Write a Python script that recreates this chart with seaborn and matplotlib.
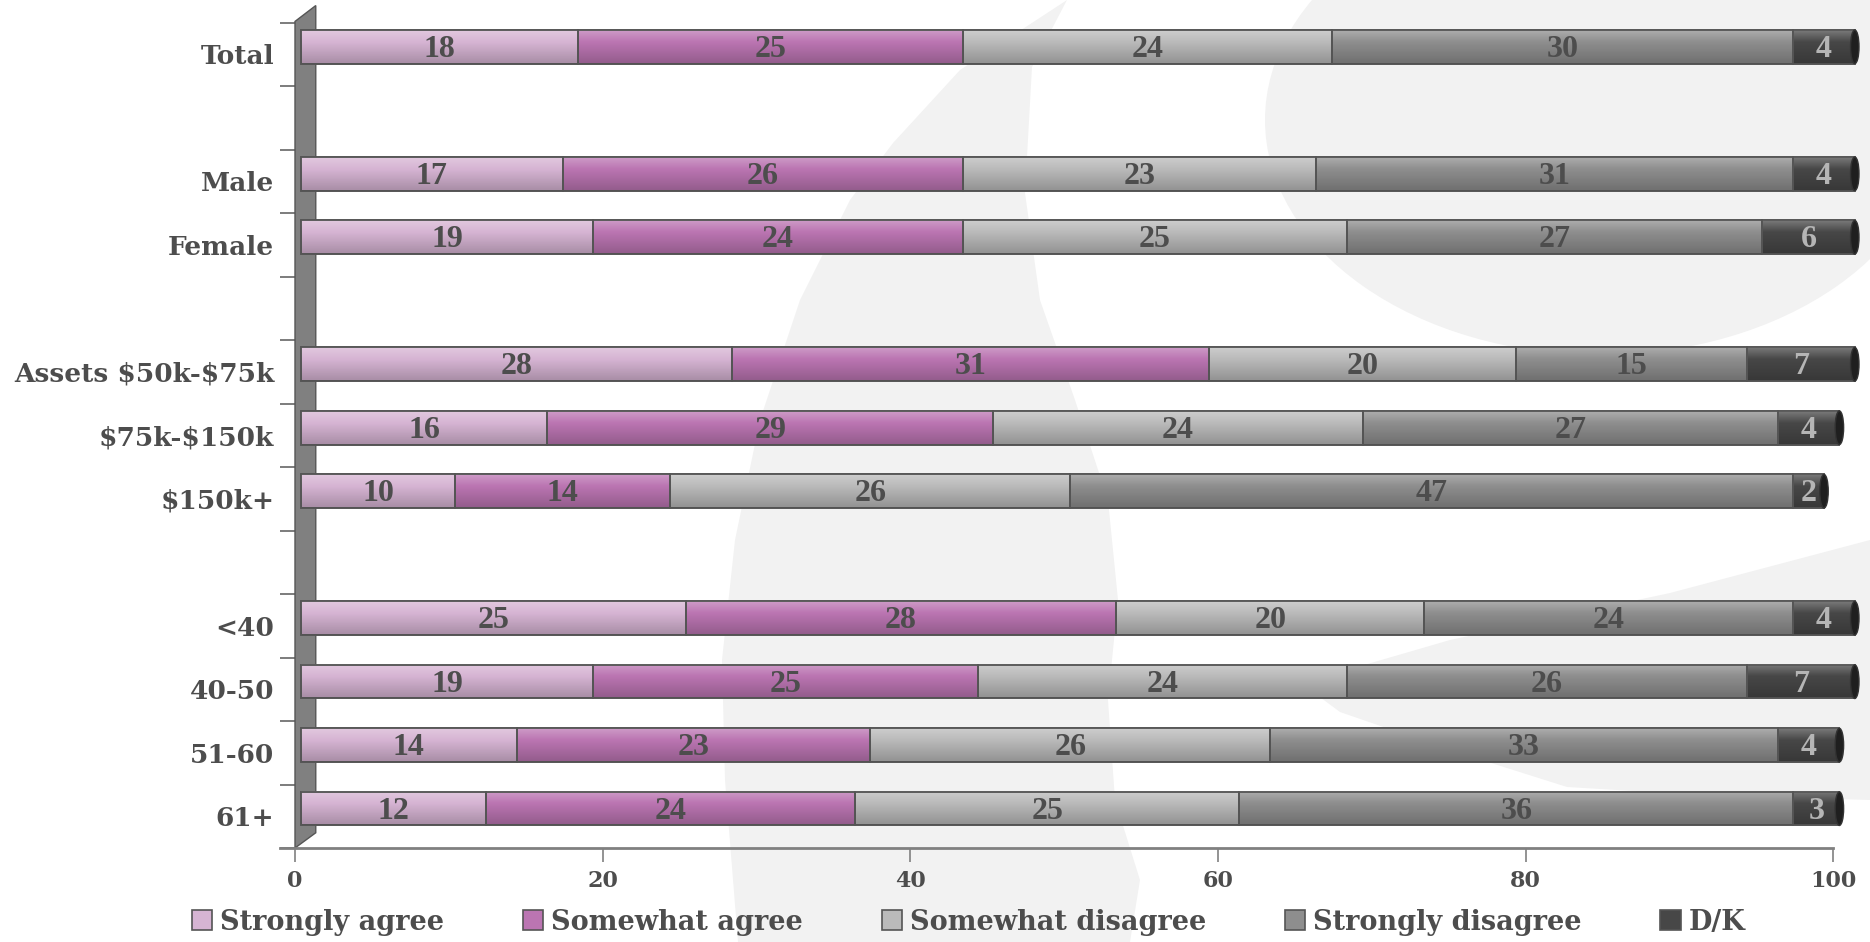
import numpy as np
import pandas as pd
import matplotlib
matplotlib.use('Agg')
import matplotlib.pyplot as plt
import seaborn as sns
from matplotlib.patches import Polygon, Ellipse, Patch, Rectangle

# survey answers in %, one list per answer, same order as `groups`
groups = ['Total', 'Male', 'Female', 'Assets $50k-$75k', '$75k-$150k', '$150k+',
          '<40', '40-50', '51-60', '61+']
strongly_agree = [18, 17, 19, 28, 16, 10, 25, 19, 14, 12]
somewhat_agree = [25, 26, 24, 31, 29, 14, 28, 25, 23, 24]
somewhat_disagree = [24, 23, 25, 20, 24, 26, 20, 24, 26, 25]
strongly_disagree = [30, 31, 27, 15, 27, 47, 24, 26, 33, 36]
dont_know = [4, 4, 6, 7, 4, 2, 4, 7, 4, 3]

answers = ['Strongly agree', 'Somewhat agree', 'Somewhat disagree', 'Strongly disagree', 'D/K']
colors = ['#d6b4d3', '#bb75b2', '#bababa', '#8e8e8e', '#474747']

# row layout, blank names are spacer rows between blocks
rows = ['Total', ' ', 'Male', 'Female', '  ', 'Assets $50k-$75k', '$75k-$150k',
        '$150k+', '   ', '<40', '40-50', '51-60', '61+']

df = pd.DataFrame({'group': groups,
                   'Strongly agree': strongly_agree,
                   'Somewhat agree': somewhat_agree,
                   'Somewhat disagree': somewhat_disagree,
                   'Strongly disagree': strongly_disagree,
                   'D/K': dont_know})
long = df.melt(id_vars='group', var_name='answer', value_name='pct')
long['end'] = long.groupby('group')['pct'].cumsum()

sns.set_style('white')
plt.rcParams['font.family'] = ['DejaVu Serif']
plt.rcParams['text.parse_math'] = False  # keep the $ signs as plain text
text_col = '#4d4d4d'

W, H = 1870, 942
fig = plt.figure(figsize=(W / 100, H / 100), dpi=100, facecolor='white')


def fp(pts):
    return [(x / W, 1 - y / H) for x, y in pts]


# faint logo watermark in the background
wm = '#f2f2f2'
crescent = [(1067, 0), (960, 70), (893, 143), (850, 200), (800, 300), (760, 420),
            (735, 540), (722, 660), (725, 780), (738, 942), (1130, 942), (1140, 880),
            (1115, 800), (1108, 700), (1118, 600), (1108, 500), (1075, 400),
            (1040, 300), (1025, 193), (1032, 67)]
horn = [(1313, 692), (1340, 672), (1450, 640), (1670, 593), (1870, 540),
        (1870, 800), (1700, 795), (1567, 787), (1450, 750), (1340, 712)]
fig.add_artist(Polygon(fp(crescent), closed=True, transform=fig.transFigure,
                       fc=wm, ec='none', zorder=0))
fig.add_artist(Polygon(fp(horn), closed=True, transform=fig.transFigure,
                       fc=wm, ec='none', zorder=0))
fig.add_artist(Ellipse((1600 / W, 1 - 120 / H), 2 * 335 / W, 2 * 235 / H,
                       transform=fig.transFigure, fc=wm, ec='none', zorder=0))

ax = fig.add_axes([295 / W, 1 - 848 / H, 1569 / W, 844.35 / H])
ax.set_facecolor('none')

# stacked bars: draw cumulative totals, then trim each bar to its own segment
for ans, col in reversed(list(zip(answers, colors))):
    sub = long[long['answer'] == ans]
    sns.barplot(data=sub, x='end', y='group', order=rows, color=col, saturation=1,
                width=0.53, edgecolor='#555555', linewidth=1.2, errorbar=None,
                orient='h', ax=ax, zorder=2)
    for bar in ax.containers[-1]:
        idx = int(round(bar.get_y() + bar.get_height() / 2))
        row = sub[sub['group'] == rows[idx]].iloc[0]
        bar.set_x(row['end'] - row['pct'] + 0.4)
        bar.set_width(row['pct'])
        bar.set_y(bar.get_y() - 0.12)

# vertical shading so the bars look like tubes
n = 64
t = np.linspace(0, 1, n)
grad = np.zeros((n, 1, 4))
light = t < 0.35
grad[light, 0, :3] = 1.0
grad[light, 0, 3] = 0.28 * (1 - t[light] / 0.35)
grad[~light, 0, 3] = 0.22 * (t[~light] - 0.35) / 0.65

for ci, container in enumerate(ax.containers):
    ans = answers[len(answers) - 1 - ci]
    for bar in container:
        x0, y0, w, h = bar.get_x(), bar.get_y(), bar.get_width(), bar.get_height()
        ax.imshow(grad, extent=(x0, x0 + w, y0 + h, y0), aspect='auto',
                  interpolation='bilinear', zorder=3)
        ax.add_patch(Rectangle((x0, y0), w, h, fill=False, ec='#555555', lw=1.2, zorder=4))
        if ans == 'D/K':
            ax.add_patch(Ellipse((x0 + w, y0 + h / 2), 0.55, h, fc='#1f1f1f',
                                 ec='#333333', lw=1, zorder=4.5))
            lab_col = '#b5b5b5'
        else:
            lab_col = text_col
        ax.text(x0 + w / 2, y0 + h / 2 + 0.04, f'{int(round(w))}', ha='center', va='center',
                fontfamily='Liberation Serif', fontweight='bold', fontsize=23,
                color=lab_col, zorder=5)

# grey side wall
wall = Polygon([(0, -0.52), (1.35, -0.77), (1.35, 12.26), (0, 12.5)], closed=True,
               fc='#808080', ec='#555555', lw=1, zorder=1.5, clip_on=False)
ax.add_patch(wall)

ax.set_xlim(0, 102)
ax.set_ylim(12.5, -0.8)
ax.set_xlabel('')
ax.set_ylabel('')

ax.set_xticks([0, 20, 40, 60, 80, 100])
ax.tick_params(axis='x', bottom=True, length=10, width=1.2, color='#808080', pad=6,
               labelsize=16, labelcolor=text_col)
ax.set_yticks(range(len(rows)))
ax.set_yticklabels(rows)
ax.set_yticks(np.arange(-0.5, len(rows), 1), minor=True)
ax.tick_params(axis='y', which='major', left=False, length=0, pad=15,
               labelsize=19, labelcolor=text_col)
ax.tick_params(axis='y', which='minor', left=True, length=11, width=1.2, color='#666666')
for lbl in ax.get_xticklabels() + ax.get_yticklabels():
    lbl.set_fontweight('bold')

sns.despine(ax=ax, left=True)
ax.spines['bottom'].set_color('#808080')
ax.spines['bottom'].set_linewidth(2)
ax.spines['bottom'].set_bounds(-1, 100)

handles = [Patch(facecolor=c, edgecolor='#555555', lw=1.2) for c in colors]
fig.legend(handles, answers, loc='center', bbox_to_anchor=(0.518, 1 - 922 / H), ncol=5,
           frameon=False, prop={'family': 'DejaVu Serif', 'weight': 'bold', 'size': 19.5},
           labelcolor=text_col, handlelength=0.75, handleheight=0.75, handletextpad=0.3,
           columnspacing=2.9)

fig.savefig('out.png', dpi=100, facecolor='white')
